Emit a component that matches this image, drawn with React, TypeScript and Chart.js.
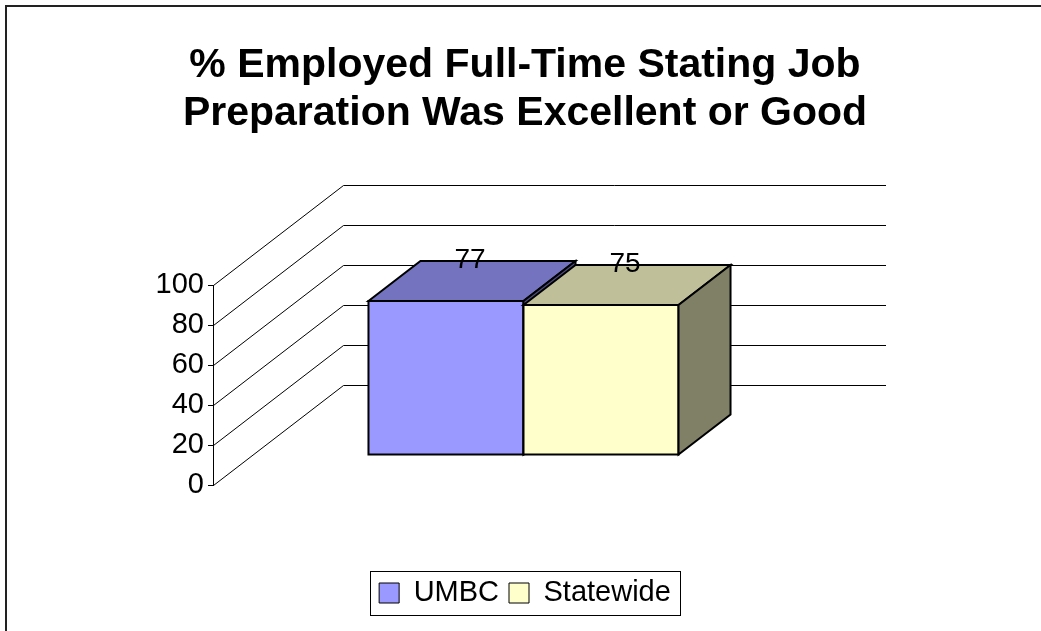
import React, { useEffect, useRef } from "react";
import { Chart, registerables } from "chart.js";

Chart.register(...registerables);

// ---- data ----
const titleLines = ["% Employed Full-Time Stating Job", "Preparation Was Excellent or Good"];
const categories = [""];
const seriesNames = ["UMBC", "Statewide"];
const umbcValues = [77];
const statewideValues = [75];
const yMin = 0;
const yMax = 100;
const yStep = 20;

// ---- styles ----
const FONT = "'Liberation Sans', Arial, Helvetica, sans-serif";
const frontColors = ["#9999FF", "#FFFFCC"];
const topColors = ["#7373BF", "#BFBF99"];
const sideColors = ["#4D4D80", "#808066"];
const DEPTH_X = 130;
const DEPTH_Y = 100;
const BAR_D0 = 0.3;
const BAR_D1 = 0.7;
const TITLE_SIZE = 41;
const TITLE_LH = 1.185;
const LEGEND_SIZE = 29;
const LEGEND_PAD = 10;

const poly = (ctx: CanvasRenderingContext2D, pts: number[][], fill: string) => {
  ctx.beginPath();
  ctx.moveTo(pts[0][0], pts[0][1]);
  for (let i = 1; i < pts.length; i++) ctx.lineTo(pts[i][0], pts[i][1]);
  ctx.closePath();
  ctx.fillStyle = fill;
  ctx.fill();
  ctx.stroke();
};

const threeDPlugin = {
  id: "threeD",
  beforeDraw(chart: any) {
    const ctx = chart.ctx;
    ctx.save();
    ctx.fillStyle = "#fff";
    ctx.fillRect(0, 0, chart.width, chart.height);
    ctx.strokeStyle = "#222";
    ctx.lineWidth = 2;
    ctx.strokeRect(6, 6, chart.width + 50, chart.height + 50);
    ctx.restore();
  },
  beforeDatasetsDraw(chart: any) {
    const ctx: CanvasRenderingContext2D = chart.ctx;
    const { left, right } = chart.chartArea;
    const yScale = chart.scales.y;
    ctx.save();
    // back wall / side gridlines
    ctx.strokeStyle = "#000";
    ctx.lineWidth = 1;
    yScale.ticks.forEach((t: any) => {
      const py = Math.round(yScale.getPixelForValue(t.value)) + 0.5;
      const lx = Math.round(left) + 0.5;
      ctx.beginPath();
      ctx.moveTo(lx, py);
      ctx.lineTo(lx + DEPTH_X, py - DEPTH_Y);
      ctx.lineTo(right + DEPTH_X, py - DEPTH_Y);
      ctx.stroke();
    });
    // 3D bars
    ctx.lineWidth = 2;
    ctx.lineJoin = "miter";
    ctx.strokeStyle = "#000";
    const labels: { x: number; y: number; text: string }[] = [];
    chart.data.datasets.forEach((ds: any, i: number) => {
      const meta = chart.getDatasetMeta(i);
      meta.data.forEach((el: any, j: number) => {
        const p = el.getProps(["x", "y", "base", "width"], true);
        const sx = DEPTH_X * BAR_D0;
        const sy = DEPTH_Y * BAR_D0;
        const dx = DEPTH_X * (BAR_D1 - BAR_D0);
        const dy = DEPTH_Y * (BAR_D1 - BAR_D0);
        const x0 = p.x - p.width / 2 + sx;
        const x1 = p.x + p.width / 2 + sx;
        const yb = p.base - sy;
        const yt = p.y - sy;
        poly(ctx, [[x0, yt], [x1, yt], [x1, yb], [x0, yb]], frontColors[i]);
        poly(ctx, [[x0, yt], [x0 + dx, yt - dy], [x1 + dx, yt - dy], [x1, yt]], topColors[i]);
        poly(ctx, [[x1, yt], [x1 + dx, yt - dy], [x1 + dx, yb - dy], [x1, yb]], sideColors[i]);
        labels.push({
          x: (x0 + x1) / 2 + dx / 2 - 2,
          y: yt - dy / 2 - 21,
          text: String(ds.data[j]),
        });
      });
    });
    ctx.fillStyle = "#000";
    ctx.font = `28px ${FONT}`;
    ctx.textAlign = "center";
    ctx.textBaseline = "middle";
    labels.forEach((l) => ctx.fillText(l.text, l.x, l.y));
    ctx.restore();
    return false;
  },
  afterDraw(chart: any) {
    const lg = chart.legend;
    if (!lg || !lg.legendHitBoxes || !lg.legendHitBoxes.length) return;
    const hb = lg.legendHitBoxes;
    const first = hb[0];
    const last = hb[hb.length - 1];
    const cy = lg.top + LEGEND_PAD + LEGEND_SIZE / 2;
    const ctx = chart.ctx;
    ctx.save();
    ctx.strokeStyle = "#000";
    ctx.lineWidth = 1;
    const l = Math.round(first.left - 9) + 0.5;
    const r = Math.round(last.left + last.width + 9) + 0.5;
    ctx.strokeRect(l, Math.round(cy - 22) + 0.5, r - l, 44);
    ctx.restore();
  },
};

export default function App() {
  const ref = useRef<HTMLCanvasElement | null>(null);
  useEffect(() => {
    if (!ref.current) return;
    const titleBlock = TITLE_SIZE * TITLE_LH * titleLines.length;
    const chart = new Chart(ref.current, {
      type: "bar",
      data: {
        labels: categories,
        datasets: [
          {
            label: seriesNames[0],
            data: umbcValues,
            backgroundColor: frontColors[0],
            borderColor: "#000",
            borderWidth: 1,
          },
          {
            label: seriesNames[1],
            data: statewideValues,
            backgroundColor: frontColors[1],
            borderColor: "#000",
            borderWidth: 1,
          },
        ],
      },
      options: {
        responsive: false,
        animation: false,
        devicePixelRatio: 1,
        categoryPercentage: 0.571,
        barPercentage: 1,
        layout: { padding: { left: 9, right: 0, top: 0, bottom: 13.5 } },
        plugins: {
          title: {
            display: true,
            text: titleLines,
            color: "#000",
            font: { family: FONT, size: TITLE_SIZE, weight: "bold", lineHeight: TITLE_LH },
            padding: { top: 41, bottom: 285 - 41 - titleBlock },
          },
          legend: {
            display: true,
            position: "bottom",
            labels: {
              color: "#000",
              font: { family: FONT, size: LEGEND_SIZE },
              boxWidth: 20,
              boxHeight: 20,
              padding: LEGEND_PAD,
            },
          },
          tooltip: { enabled: false },
        },
        scales: {
          x: {
            type: "category",
            grid: { display: false },
            border: { display: false },
            ticks: { display: false },
            afterFit: (s: any) => {
              s.height = 83.5;
            },
          },
          y: {
            type: "linear",
            position: "left",
            min: yMin,
            max: yMax,
            ticks: {
              stepSize: yStep,
              color: "#000",
              font: { family: FONT, size: 29 },
              padding: 4,
            },
            grid: { drawOnChartArea: false, drawTicks: true, tickLength: 5, color: "#000" },
            border: { display: true, color: "#000", width: 1 },
            afterFit: (s: any) => {
              s.width = 204;
            },
          },
          yR: {
            type: "linear",
            position: "right",
            display: true,
            grid: { display: false },
            border: { display: false },
            ticks: { display: false },
            afterFit: (s: any) => {
              s.width = 285;
            },
          },
        },
      } as any,
      plugins: [threeDPlugin],
    });
    return () => chart.destroy();
  }, []);
  return (
    <div style={{ position: "absolute", left: 0, top: 0, width: 1041, height: 631 }}>
      <canvas ref={ref} width={1041} height={631} style={{ display: "block" }} />
    </div>
  );
}
